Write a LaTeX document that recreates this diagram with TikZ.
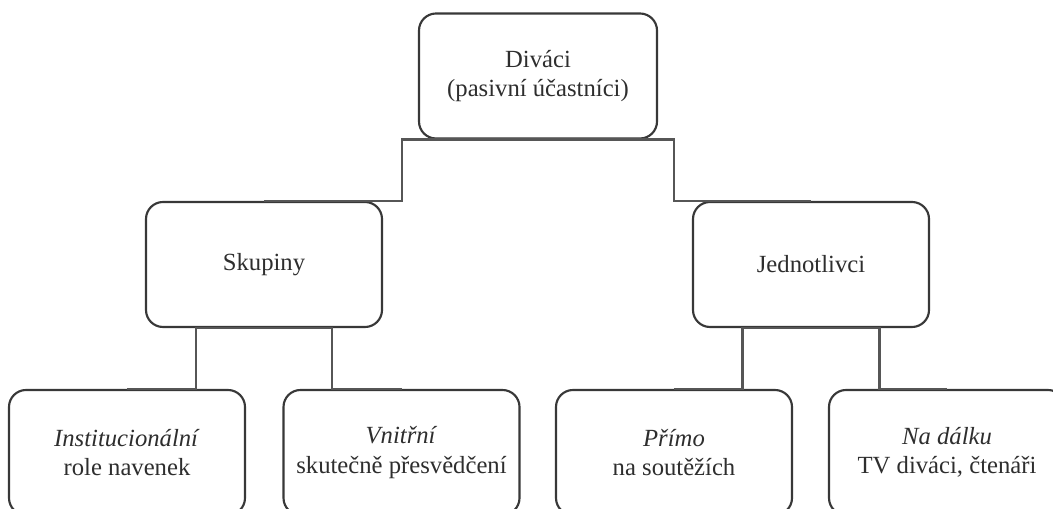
\documentclass[tikz,border=0pt]{standalone}
\usepackage{fontspec}
\setmainfont{Liberation Serif}
\usetikzlibrary{positioning,calc}
\definecolor{linegray}{HTML}{383838}
\definecolor{textgray}{HTML}{2E2E2E}

\begin{document}
\begin{tikzpicture}[x=0.75pt, y=-0.75pt,
  orgbox/.style={rectangle, draw=linegray, line width=1.6pt, rounded corners=12.75pt, fill=white, minimum width=177pt, minimum height=93.75pt, align=center, text=textgray, font=\fontsize{18.5}{22}\selectfont},
  link/.style={draw=linegray!85, line width=1.7pt}
]
  \useasboundingbox (0,0) rectangle (1053,509);
  \clip (0,0) rectangle (1053,509);

  \node[orgbox, minimum width=178.5pt] (divaci) at (538,76) {Diváci\\(pasivní účastníci)};
  \node[orgbox] (skupiny) at (264,264.5) {Skupiny};
  \node[orgbox] (jednotlivci) at (811,264.5) {Jednotlivci};
  \node[orgbox] (inst) at (127,452.5) {\textit{Institucionální}\\role navenek};
  \node[orgbox] (vnitrni) at (401.5,452.5) {\textit{Vnitřní}\\skutečně přesvědčení};
  \node[orgbox] (primo) at (674,452.5) {\textit{Přímo}\\na soutěžích};
  \node[orgbox] (nadalku) at (947,452.5) {\textit{Na dálku}\\TV diváci, čtenáři};

  \draw[link] (divaci.south) -- ++(-136,0) |- (skupiny.north);
  \draw[link] (divaci.south) -- ++(136,0) |- (jednotlivci.north);
  \draw[link] (skupiny.south) -- ++(-68,0) |- (inst.north);
  \draw[link] (skupiny.south) -- ++(68,0) |- (vnitrni.north);
  \draw[link] (jednotlivci.south) -- ++(-68.5,0) |- (primo.north);
  \draw[link] (jednotlivci.south) -- ++(68.5,0) |- (nadalku.north);
\end{tikzpicture}
\end{document}
